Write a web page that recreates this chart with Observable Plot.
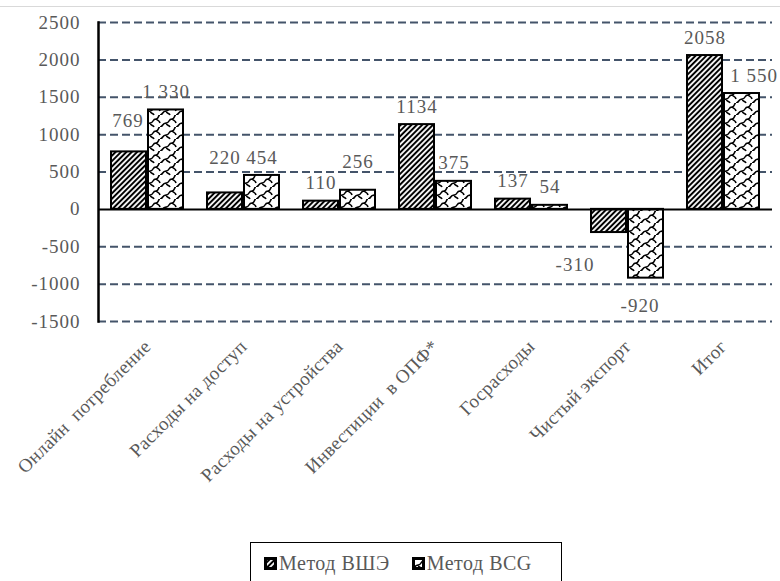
<!DOCTYPE html>
<html>
<head>
<meta charset="utf-8">
<script src="https://cdn.jsdelivr.net/npm/d3@7"></script>
<script src="https://cdn.jsdelivr.net/npm/@observablehq/plot@0.6"></script>
<style>
  body { margin: 0; background: #fff; font-family: 'Liberation Serif', serif; }
  #wrap { margin-top: 6px; border-top: 1px solid #d9d9d9; width: 780px; }
  #legend {
    margin: 7px 0 0 250px; width: 312px; height: 42px; box-sizing: border-box;
    border: 1.5px solid #000; display: flex; align-items: center; padding-left: 13px;
    font-size: 20px; letter-spacing: 0.5px; color: #595959; white-space: nowrap; overflow: visible;
  }
  #legend .item { display: flex; align-items: center; margin-right: 22px; flex: 0 0 auto; }
  #legend svg { margin-right: 2px; flex: 0 0 auto; }
</style>
</head>
<body>
<div id="wrap"></div>
<div id="legend" style="font-family:'Liberation Serif', serif"></div>
<script>
// Вклад цифровой экономики в ВВП: оценки двух методов
const categories = [
  "Онлайн  потребление",
  "Расходы на доступ",
  "Расходы на устройства",
  "Инвестиции  в ОПФ*",
  "Госрасходы",
  "Чистый экспорт",
  "Итог"
];
const seriesNames = ["Метод ВШЭ", "Метод BCG"];
const hseValues = [769, 220, 110, 1134, 137, -310, 2058];
const bcgValues = [1330, 454, 256, 375, 54, -920, 1550];
const yTicks = [-1500, -1000, -500, 0, 500, 1000, 1500, 2000, 2500];

const serifFont = "'Liberation Serif', serif";

// BCG labels group thousands with a space, ВШЭ labels do not
const fmtPlain = d => String(d);
const fmtSpaced = d => {
  const s = String(Math.abs(d));
  const g = s.length > 3 ? s.slice(0, s.length - 3) + " " + s.slice(-3) : s;
  return (d < 0 ? "-" : "") + g;
};

const rows = categories.flatMap((c, i) => [
  {category: c, series: seriesNames[0], value: hseValues[i], i, label: fmtPlain(hseValues[i])},
  {category: c, series: seriesNames[1], value: bcgValues[i], i, label: fmtSpaced(bcgValues[i])}
]);

// label placement tweaks (px) keyed by series index and category index
const labelNudge = {
  "0:0": [-1, -13],
  "0:1": [0, -17],
  "1:2": [0, -10],
  "0:5": [-34, 14],
  "1:5": [-6, 10],
  "1:6": [12, 0]
};

const gridColor = "#44546A";
const textColor = "#595959";

const labelMarks = rows.map(r => {
  const s = seriesNames.indexOf(r.series);
  const [ndx, ndy] = labelNudge[`${s}:${r.i}`] || [0, 0];
  const baseDx = s === 0 ? -18.5 : 18.5;
  const baseDy = r.value >= 0 ? -18 : 18;
  return Plot.text([r], {
    x: "category", y: "value", text: "label",
    dx: baseDx + ndx, dy: baseDy + ndy,
    lineAnchor: "middle", fill: textColor, fontSize: 19, fontFamily: serifFont
  });
});

const chart = Plot.plot({
  width: 780,
  height: 528,
  marginTop: 15,
  marginBottom: 214,
  marginLeft: 98,
  marginRight: 8,
  style: `font-family: 'Liberation Serif', serif; font-size: 19px; color: ${textColor}; background: #fff; letter-spacing: 1px;`,
  x: {domain: categories, padding: 0},
  y: {domain: [-1500, 2500]},
  marks: [
    Plot.ruleY(yTicks.filter(v => v !== 0), {stroke: gridColor, strokeWidth: 2, strokeDasharray: "8,4"}),
    Plot.barY(rows.filter(r => r.series === seriesNames[0]), {
      x: "category", y: "value", fill: "url(#hatchHSE)", stroke: "#000", strokeWidth: 2,
      insetLeft: 12, insetRight: 49
    }),
    Plot.barY(rows.filter(r => r.series === seriesNames[1]), {
      x: "category", y: "value", fill: "url(#scalesBCG)", stroke: "#000", strokeWidth: 2,
      insetLeft: 49, insetRight: 12
    }),
    Plot.ruleY([0], {stroke: "#000", strokeWidth: 2}),
    Plot.frame({anchor: "left", stroke: "#000", strokeWidth: 2.5}),
    Plot.axisY(yTicks, {tickSize: 0, tickPadding: 18, tickFormat: d => String(d), label: null, fontFamily: serifFont}),
    Plot.axisX({tickRotate: -45, tickSize: 0, tickPadding: 22, label: null, fontSize: 19, fontFamily: serifFont}),
    ...labelMarks
  ]
});
chart.setAttribute("font-family", "Liberation Serif, serif");
// category labels are set a little tighter than the numbers
d3.select(chart).selectAll("[aria-label='x-axis tick label'] text").style("letter-spacing", "0.3px");

// fill patterns for the two series
const patternDefs = `
  <pattern id="hatchHSE" width="3.8" height="3.8" patternUnits="userSpaceOnUse" patternTransform="rotate(45)">
    <rect width="3.8" height="3.8" fill="#fff"/>
    <line x1="1.9" y1="0" x2="1.9" y2="3.8" stroke="#000" stroke-width="2"/>
  </pattern>
  <pattern id="scalesBCG" width="16" height="12" patternUnits="userSpaceOnUse">
    <rect width="16" height="12" fill="#fff"/>
    <path d="M0 12 C3 12 2 8 6 8 C10 8 8 4 12 4 C15 4 14 0 16 0
             M-16 12 C-13 12 -14 8 -10 8 C-6 8 -8 4 -4 4 C-1 4 -2 0 0 0
             M16 12 C19 12 18 8 22 8 C26 8 24 4 28 4
             M6 8 C7 11 9 10 10 12 M6 -4 C7 -1 9 -2 10 0
             M12 4 C14 6 15 5 16 8 M-4 4 C-2 6 -1 5 0 8"
          fill="none" stroke="#000" stroke-width="1.6"/>
  </pattern>`;
const defs = document.createElementNS("http://www.w3.org/2000/svg", "defs");
defs.innerHTML = patternDefs;
chart.insertBefore(defs, chart.firstChild);

document.getElementById("wrap").appendChild(chart);

// legend below the chart
const legend = d3.select("#legend");
const fills = ["url(#hatchHSE)", "url(#scalesBCG)"];
seriesNames.forEach((name, k) => {
  const item = legend.append("div").attr("class", "item");
  const sw = item.append("svg").attr("width", 13).attr("height", 13);
  sw.append("rect").attr("x", 1.5).attr("y", 1.5).attr("width", 10).attr("height", 10)
    .attr("fill", fills[k]).attr("stroke", "#000").attr("stroke-width", 3);
  item.append("span").text(name);
});
</script>
</body>
</html>
